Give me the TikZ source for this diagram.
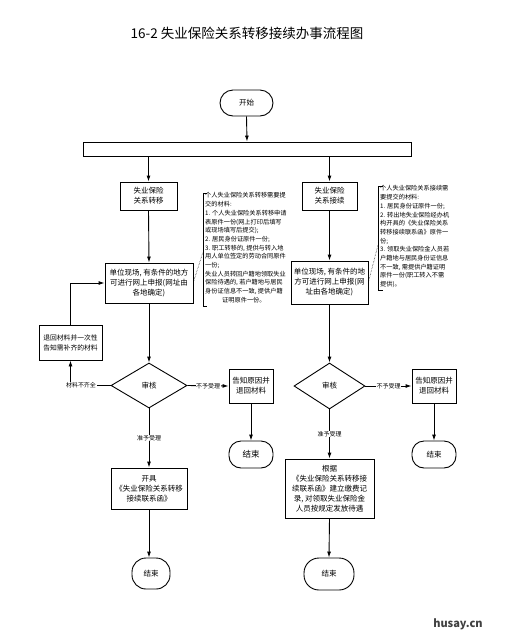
\documentclass[tikz,border=0pt]{standalone}
\usepackage{fontspec}
\setmainfont{Noto Sans CJK SC}
\newfontfamily\cjk{Noto Sans CJK SC}
\usetikzlibrary{shapes.geometric,arrows.meta,calc}
\tikzset{
  box/.style={draw, line width=0.9pt, align=center, inner sep=1pt, font=\fontsize{7.5}{10}\selectfont},
  term/.style={box, rounded corners=12pt},
  dia/.style={draw, line width=0.9pt, diamond, inner sep=0pt, font=\fontsize{7.5}{10}\selectfont},
  arr/.style={line width=0.9pt, -{Latex[length=6pt,width=4pt]}},
  ln/.style={line width=0.9pt},
  lbl/.style={fill=white, inner sep=0.5pt, font=\fontsize{6}{7}\selectfont},
  note/.style={align=left, inner sep=0pt, anchor=north west, font=\fontsize{6.2}{8.7}\selectfont},
  brk/.style={line width=0.9pt},
  dots/.style={densely dotted, line width=0.5pt}
}
\begin{document}
\begin{tikzpicture}[x=1pt,y=-1pt]
\useasboundingbox (0,0) rectangle (512,641);
\node[font=\fontsize{13.5}{15}\selectfont] (title) at (247,33) {16-2 失业保险关系转移接续办事流程图};

\node[term, minimum width=53pt, minimum height=26pt, rounded corners=13pt] (start) at (246.5,103) {开始};
\node[box, minimum width=328pt, minimum height=14pt] (bar) at (247,149) {};
\draw[arr] (start.south) -- (bar.north);

% left column
\node[box, minimum width=57pt, minimum height=28pt] (L1) at (148.5,196) {失业保险\\关系转移};
\node[box, minimum width=88pt, minimum height=40pt] (L2) at (149,283) {单位现场, 有条件的地方\\可进行网上申报(网址由\\各地确定)};
\node[box, minimum width=63pt, minimum height=35pt, font=\fontsize{6.8}{10}\selectfont] (Lret) at (70.5,342.5) {退回材料并一次性\\告知需补齐的材料};
\node[dia, minimum width=76pt, minimum height=45pt] (LD) at (149,385.5) {审核};
\node[box, minimum width=44pt, minimum height=34pt] (LR) at (251,386) {告知原因并\\退回材料};
\node[term, minimum width=44pt, minimum height=27pt, font=\fontsize{8.5}{10}\selectfont] (LE) at (251,454.5) {结束};
\node[box, minimum width=76pt, minimum height=41pt] (LK) at (149,488.5) {开具\\《失业保险关系转移\\接续联系函》};
\node[term, minimum width=38pt, minimum height=31pt, rounded corners=14pt] (LEnd) at (151,573.5) {结束};

\draw[arr] (L1 |- bar.south) -- (L1.north);
\draw[arr] (L1.south) -- (L2.north);
\draw[arr] (L2.south) -- (LD.north);
\draw[arr] (LD.west) -| (Lret.south);
\node[lbl] (lbl1) at (81,385.5) {材料不齐全};
\draw[arr] (Lret.north) |- (L2.west);
\draw[arr] (LD.east) -- node[lbl] {不予受理} (LR.west);
\draw[arr] (LR.south) -- (LE.north);
\draw[arr] (LD.south) -- node[lbl] {准予受理} (LK.north);
\draw[arr] (LK.south) -- (LEnd.north -| LK.south);

% left note
\coordinate (lb1) at (203,193);
\coordinate (lb2) at (203,306);
\draw[brk] ($(lb1)+(4,0)$) -- (lb1) -- (lb2) -- ($(lb2)+(4,0)$);
\node[note] (lnote) at (205,192.5) {个人失业保险关系转移需要提\\交的材料:\\1. 个人失业保险关系转移申请\\表原件一份(网上打印后填写\\或现场填写后提交);\\2. 居民身份证原件一份;\\3. 职工转移的, 提供与转入地\\用人单位签定的劳动合同原件\\一份;\\失业人员转回户籍地领取失业\\保险待遇的, 若户籍地与居民\\身份证信息不一致, 提供户籍\\\hspace{17pt}证明原件一份。};
\coordinate (ld) at (203,252);
\draw[dots] (L2.east |- 0,282) -- (ld);

% right column
\node[box, minimum width=55pt, minimum height=28pt] (R1) at (329.5,196) {失业保险\\关系接续};
\node[box, minimum width=77pt, minimum height=43pt] (R2) at (329.5,282.5) {单位现场, 有条件的地\\方可进行网上申报(网\\址由各地确定)};
\node[dia, minimum width=71pt, minimum height=46pt] (RD) at (329.5,386) {审核};
\node[box, minimum width=44pt, minimum height=34pt] (RR) at (434,386) {告知原因并\\退回材料};
\node[term, minimum width=44pt, minimum height=27pt] (RE) at (434,454.5) {结束};
\node[box, minimum width=89pt, minimum height=59pt] (RK) at (329.5,488.5) {根据\\《失业保险关系转移接\\续联系函》建立缴费记\\录, 对领取失业保险金\\人员按规定发放待遇};
\node[term, minimum width=50pt, minimum height=32pt, rounded corners=15pt] (REnd) at (329,574) {结束};

\draw[arr] (R1 |- bar.south) -- (R1.north);
\draw[arr] (R1.south) -- (R2.north);
\draw[arr] (R2.south) -- (RD.north);
\draw[arr] (RD.east) -- node[lbl] {不予受理} (RR.west);
\draw[arr] (RR.south) -- (RE.north);
\draw[arr] (RD.south) -- node[lbl] {准予受理} (RK.north);
\draw[arr] (RK.south) -- (REnd.north);

% right note
\coordinate (rb1) at (378,186);
\coordinate (rb2) at (378,290);
\draw[brk] ($(rb1)+(5,0)$) -- (rb1) -- (rb2) -- ($(rb2)+(5,0)$);
\node[note] (rnote) at (380,185.5) {个人失业保险关系接续需\\要提交的材料:\\1. 居民身份证原件一份;\\2. 转出地失业保险经办机\\构开具的《失业保险关系\\转移接续联系函》原件一\\份;\\3. 领取失业保险金人员若\\户籍地与居民身份证信息\\不一致, 需提供户籍证明\\原件一份(职工转入不需\\提供)。};
\coordinate (rd) at (378,245);
\draw[dots] (R2.east |- 0,282) -- (rd);

\node[font=\fontsize{11}{12}\selectfont\bfseries, text=black!75] (wm) at (458,624) {husay.cn};
\end{tikzpicture}
\end{document}
